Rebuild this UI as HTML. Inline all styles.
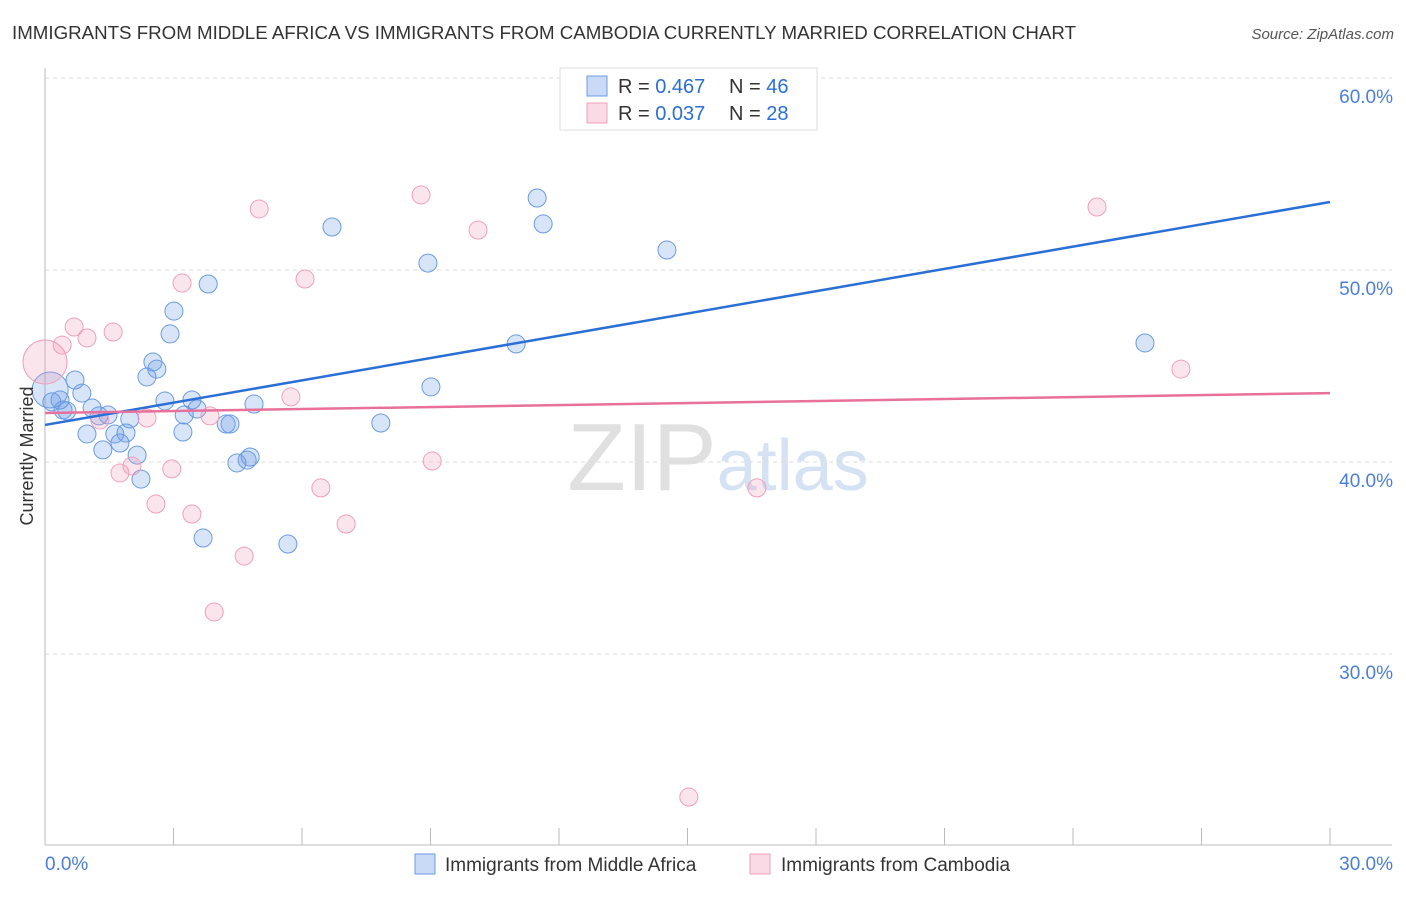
<!DOCTYPE html>
<html><head><meta charset="utf-8"><style>
body{margin:0;background:#fff;font-family:"Liberation Sans",sans-serif;}
svg text{font-family:"Liberation Sans",sans-serif;}
</style></head><body>
<svg id="chart" width="1406" height="892" xmlns="http://www.w3.org/2000/svg">
<text x="12" y="39" font-size="18" fill="#333" textLength="1064" lengthAdjust="spacingAndGlyphs">IMMIGRANTS FROM MIDDLE AFRICA VS IMMIGRANTS FROM CAMBODIA CURRENTLY MARRIED CORRELATION CHART</text>
<text x="1394" y="39" font-size="15" fill="#555" text-anchor="end" font-style="italic">Source: ZipAtlas.com</text>
<text x="718" y="490" font-size="96" text-anchor="middle" font-family="Liberation Serif"><tspan fill="#e0e0e0">ZIP</tspan><tspan fill="#d4e2f4" font-family="Liberation Sans" font-size="72">atlas</tspan></text>
<g id="grid"></g>
<g id="axes"></g>
<g id="pts"></g>
<g id="lines"></g>
<text transform="translate(33,456) rotate(-90)" font-size="18" fill="#333" text-anchor="middle">Currently Married</text>
<g>
<rect x="560" y="68" width="257" height="62" fill="#fff" stroke="#ddd"/>
<rect x="587" y="76" width="20" height="20" fill="rgba(100,150,230,0.35)" stroke="#6a9be0"/>
<rect x="587" y="103" width="20" height="20" fill="rgba(240,150,180,0.35)" stroke="#f0a0b8"/>
<text x="618" y="93" font-size="20" fill="#333">R = <tspan fill="#2a6fd6">0.467</tspan></text>
<text x="729" y="93" font-size="20" fill="#333">N = <tspan fill="#2a6fd6">46</tspan></text>
<text x="618" y="120" font-size="20" fill="#333">R = <tspan fill="#2a6fd6">0.037</tspan></text>
<text x="729" y="120" font-size="20" fill="#333">N = <tspan fill="#2a6fd6">28</tspan></text>
</g>
<g>
<rect x="415" y="854" width="20" height="20" fill="rgba(100,150,230,0.35)" stroke="#6a9be0"/>
<text x="445" y="871" font-size="19" fill="#333">Immigrants from Middle Africa</text>
<rect x="750" y="854" width="20" height="20" fill="rgba(240,150,180,0.35)" stroke="#f0a0b8"/>
<text x="781" y="871" font-size="19" fill="#333">Immigrants from Cambodia</text>
</g>
</svg>
<script>
const yTicks=[60,50,40,30];
const yTickLabels=["60.0%","50.0%","40.0%","30.0%"];
const xLabels=["0.0%","30.0%"];
const blueX=[0.12,0.16,0.35,0.51,0.42,0.70,0.86,1.10,1.26,1.47,0.98,1.35,1.63,1.75,1.89,1.98,2.15,2.24,2.38,2.52,2.61,2.80,2.92,3.01,3.22,3.25,3.43,3.55,3.69,3.81,4.23,4.32,4.48,4.72,4.79,4.88,5.67,6.70,7.84,8.94,9.01,11.00,11.49,11.63,14.52,25.68];
const blueY=[43.75,43.13,43.23,42.66,42.71,44.27,43.59,42.81,42.40,42.45,41.46,40.63,41.46,40.99,41.51,42.24,40.36,39.11,44.43,45.21,44.84,43.18,46.67,47.86,41.56,42.45,43.23,42.76,36.04,49.27,41.98,41.98,39.95,40.10,40.26,43.02,35.73,52.24,42.03,50.36,43.91,46.15,53.75,52.40,51.04,46.20];
const pinkX=[0.00,0.40,0.68,0.98,1.59,1.28,1.75,2.03,2.38,2.59,2.96,3.20,3.43,3.85,3.95,4.65,5.00,5.74,6.07,6.44,7.03,8.78,9.04,10.11,16.62,24.56,26.52,15.03];
const pinkY=[45.21,46.09,47.03,46.46,46.77,42.19,39.43,39.79,42.29,37.81,39.64,49.32,37.29,42.40,32.19,35.10,53.18,43.39,49.53,38.65,36.77,53.91,40.05,52.08,38.65,53.28,44.84,22.55];
const blueTrend=[41.93,53.54];
const pinkTrend=[42.55,43.59];
const NS="http://www.w3.org/2000/svg";
const X=v=>45+v/30*1285;
const Y=v=>78+(60-v)*19.2;
function mk(tag,attrs,parent){const e=document.createElementNS(NS,tag);for(const k in attrs)e.setAttribute(k,attrs[k]);document.getElementById(parent).appendChild(e);return e;}
yTicks.forEach((t,i)=>{
 const l=mk('line',{x1:45,x2:1392,y1:Y(t),y2:Y(t),stroke:'#ddd','stroke-dasharray':'4,4'},'grid');
 
 
 const tx=mk('text',{x:1393,y:Y(t)+25,'font-size':19,fill:'#4a7fd6','text-anchor':'end'},'grid');
 tx.textContent=yTickLabels[i];
 
 
});
const ax=mk('line',{x1:45,x2:1392,y1:845,y2:845,stroke:'#bbb'},'axes');


const ay=mk('line',{x1:45,x2:45,y1:68,y2:845,stroke:'#bbb'},'axes');


for(let i=1;i<=10;i++){
 const t=mk('line',{x1:X(i*3),x2:X(i*3),y1:828,y2:845,stroke:'#bbb'},'axes');
 
 
}
const xl0=mk('text',{x:45,y:870,'font-size':19,fill:'#4a7fd6'},'axes');xl0.textContent=xLabels[0];


const xl1=mk('text',{x:1393,y:870,'font-size':19,fill:'#4a7fd6','text-anchor':'end'},'axes');xl1.textContent=xLabels[1];


blueX.forEach((v,i)=>{
 const c=mk('circle',{cx:X(v),cy:Y(blueY[i]),r:i==0?18:9,fill:'rgba(100,150,230,0.25)',stroke:'#6a9be0','stroke-width':1},'pts');
 
 
});
pinkX.forEach((v,i)=>{
 const c=mk('circle',{cx:X(v),cy:Y(pinkY[i]),r:i==0?22:9,fill:'rgba(240,150,180,0.25)',stroke:'#f0a0b8','stroke-width':1},'pts');
 
 
});
const bl=mk('line',{x1:X(0),x2:X(30),y1:Y(blueTrend[0]),y2:Y(blueTrend[1]),stroke:'#2a6fd6','stroke-width':2.5},'lines');


const pl=mk('line',{x1:X(0),x2:X(30),y1:Y(pinkTrend[0]),y2:Y(pinkTrend[1]),stroke:'#e8709a','stroke-width':2.5},'lines');


</script>
</body></html>
